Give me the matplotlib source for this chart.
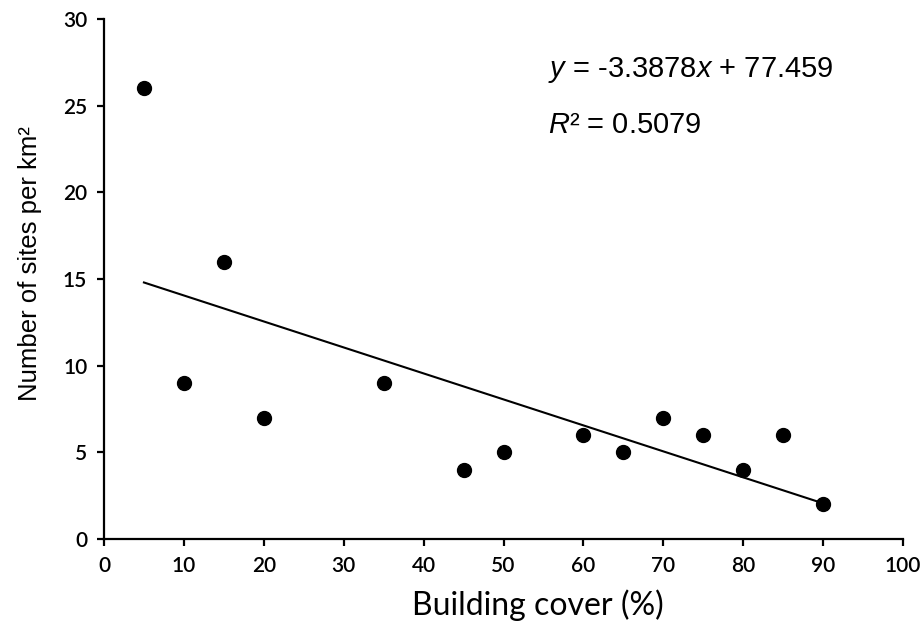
import numpy as np
import matplotlib
matplotlib.use("Agg")
import matplotlib.pyplot as plt

plt.rcParams["mathtext.fontset"] = "custom"
plt.rcParams["mathtext.rm"] = "Liberation Sans"
plt.rcParams["mathtext.it"] = "Liberation Sans:italic"

# data
cover = [5, 10, 15, 20, 35, 45, 50, 60, 65, 70, 75, 80, 85, 90]
sites = [26, 9, 16, 7, 9, 4, 5, 6, 5, 7, 6, 4, 6, 2]
xticks = [0, 10, 20, 30, 40, 50, 60, 70, 80, 90, 100]
yticks = [0, 5, 10, 15, 20, 25, 30]

# linear trend (y on x)
slope, intercept = np.polyfit(cover, sites, 1)
xfit = np.array([min(cover), max(cover)])
yfit = slope * xfit + intercept

fig = plt.figure(figsize=(9.21, 6.31), dpi=100)
ax = fig.add_axes([0.1129, 0.1458, 0.8676, 0.8241])

ax.plot(xfit, yfit, color="black", linewidth=1.5, zorder=2)
ax.scatter(cover, sites, s=100, color="black", zorder=3)

ax.set_xlim(0, 100)
ax.set_ylim(0, 30)
ax.set_xticks(xticks)
ax.set_yticks(yticks)
ax.spines["top"].set_visible(False)
ax.spines["right"].set_visible(False)
ax.spines["left"].set_linewidth(1.6)
ax.spines["bottom"].set_linewidth(1.6)
ax.tick_params(direction="out", length=5, width=1.6, labelsize=15, pad=7)
for lab in ax.get_xticklabels() + ax.get_yticklabels():
    lab.set_family("Lato")
    lab.set_weight("semibold")

# axis titles sit a little off-centre in the original
fig.text(0.584, 0.041, "Building cover (%)", fontsize=23, family="Lato",
         ha="center", va="center")
fig.text(0.033, 0.582, "Number of sites per km²", fontsize=18.5,
         family="Liberation Sans", rotation=90, ha="center", va="center")

fig.text(0.595, 0.878, r"$\it{y}$ = -3.3878$\it{x}$ + 77.459",
         fontsize=21, family="Liberation Sans")
fig.text(0.595, 0.789, r"$\it{R}$² = 0.5079",
         fontsize=21, family="Liberation Sans")

fig.savefig("out.png", dpi=100)
